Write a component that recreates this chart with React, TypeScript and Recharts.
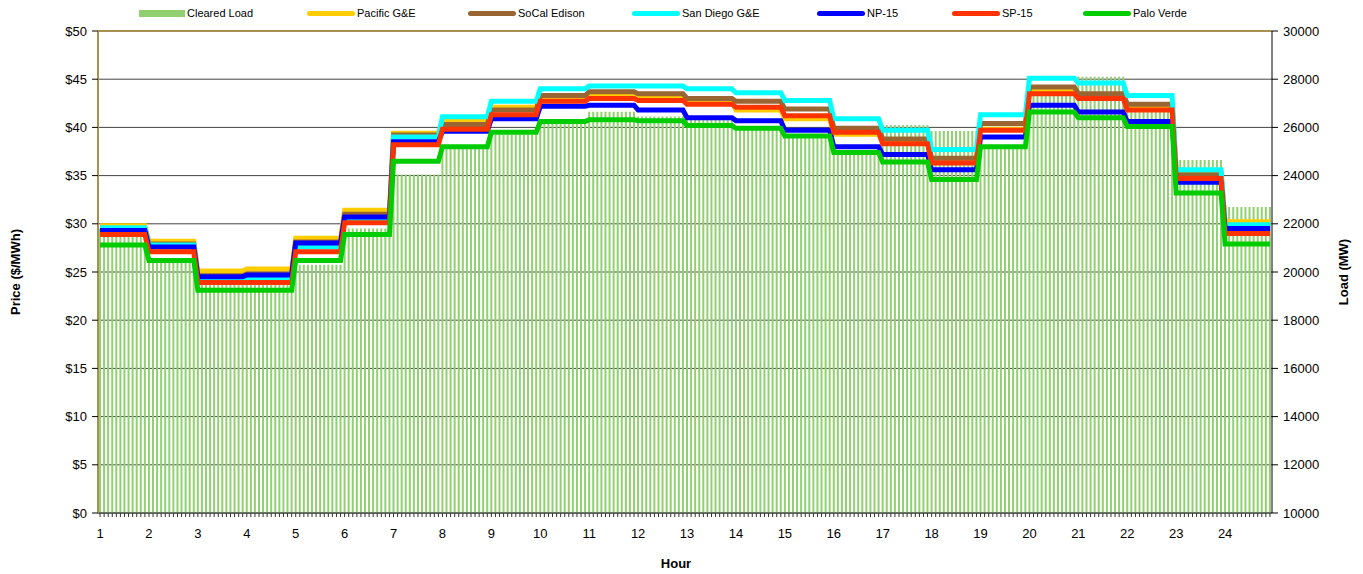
import {
  ComposedChart,
  Bar,
  Line,
  XAxis,
  YAxis,
  CartesianGrid,
  Legend,
  ReferenceLine,
} from "recharts";

const hourLabels = ['1', '2', '3', '4', '5', '6', '7', '8', '9', '10', '11', '12',
  '13', '14', '15', '16', '17', '18', '19', '20', '21', '22', '23', '24'];

// 5-minute slots per hour in the source data
const slotsPerHour = 12;

const clearedLoad = [21800, 20400, 20100, 20000, 20300, 21800, 24050, 25150, 25700, 26150, 26650, 26450,
  26400, 26000, 25600, 24950, 26100, 25850, 25150, 27400, 28100, 26800, 24650, 22700];

const pacificGE = [29.8, 28.2, 25.1, 25.3, 28.5, 31.4, 39.4, 40.6, 42.1, 43.0, 43.4, 43.3,
  42.7, 41.8, 40.9, 39.3, 38.4, 36.4, 39.8, 43.8, 43.3, 42.1, 35.3, 30.2];
const soCalEdison = [29.5, 27.9, 24.6, 24.8, 28.1, 31.0, 39.2, 40.3, 41.8, 43.3, 43.7, 43.5,
  43.0, 42.7, 41.9, 39.9, 38.8, 36.8, 40.4, 44.2, 43.5, 42.4, 35.1, 29.8];
const sanDiegoGE = [29.6, 27.8, 24.3, 24.4, 27.6, 30.5, 39.0, 41.1, 42.7, 44.0, 44.3, 44.3,
  44.0, 43.6, 42.8, 40.9, 39.7, 37.7, 41.3, 45.1, 44.6, 43.3, 35.6, 29.9];
const np15 = [29.3, 27.6, 24.5, 24.7, 28.0, 30.7, 38.5, 39.6, 40.9, 42.2, 42.3, 41.8,
  41.0, 40.7, 39.7, 38.0, 37.2, 35.6, 39.0, 42.3, 41.6, 40.6, 34.3, 29.5];
const sp15 = [28.9, 27.1, 23.9, 23.9, 27.1, 30.1, 38.2, 39.8, 41.3, 42.7, 43.0, 42.8,
  42.4, 42.1, 41.2, 39.5, 38.3, 36.3, 39.7, 43.5, 43.0, 41.8, 34.7, 29.0];
const paloVerde = [27.8, 26.2, 23.1, 23.1, 26.2, 28.9, 36.5, 38.0, 39.5, 40.6, 40.8, 40.7,
  40.2, 39.9, 39.1, 37.4, 36.4, 34.6, 38.0, 41.6, 41.0, 40.1, 33.2, 27.9];

const priceTicks = [0, 5, 10, 15, 20, 25, 30, 35, 40, 45, 50];
const loadTicks = [10000, 12000, 14000, 16000, 18000, 20000, 22000, 24000, 26000, 28000, 30000];

const series = [
  { key: 'pge', name: 'Pacific G&E', color: '#FFCC00', values: pacificGE },
  { key: 'sce', name: 'SoCal Edison', color: '#996633', values: soCalEdison },
  { key: 'sdge', name: 'San Diego G&E', color: '#00FFFF', values: sanDiegoGE },
  { key: 'np15', name: 'NP-15', color: '#0000FF', values: np15 },
  { key: 'sp15', name: 'SP-15', color: '#FF3300', values: sp15 },
  { key: 'pv', name: 'Palo Verde', color: '#00CC00', values: paloVerde },
];

const loadColor = '#90D070';
const borderColor = '#A89050';
const font = 'Liberation Sans, Arial, sans-serif';

// each hour holds one value for all of its 5-minute slots
const data = hourLabels.flatMap((_, h) =>
  Array.from({ length: slotsPerHour }, (_, k) => {
    const row: Record<string, number> = { slot: h * slotsPerHour + k, load: clearedLoad[h] };
    series.forEach(s => { row[s.key] = s.values[h]; });
    return row;
  })
);

const legendItems = [
  { name: 'Cleared Load', color: loadColor, box: true },
  ...series.map(s => ({ name: s.name, color: s.color, box: false })),
];
const legendWidths = [168, 161, 164, 185, 135, 131, 120];

const renderLegend = () => (
  <div style={{ display: 'flex', height: 22, paddingLeft: 139, fontFamily: font, fontSize: 11, alignItems: 'center' }}>
    {legendItems.map((it, i) => (
      <div key={it.name} style={{ display: 'flex', alignItems: 'center', width: legendWidths[i] }}>
        <span style={{
          display: 'inline-block', width: it.box ? 46 : 48, height: it.box ? 7 : 5,
          background: it.color, borderRadius: it.box ? 0 : 3, marginRight: 2,
        }} />
        <span>{it.name}</span>
      </div>
    ))}
  </div>
);

const App = () => {
  return (
    <div style={{ position: 'absolute', left: 0, top: 0 }}>
      <ComposedChart width={1363} height={574} data={data}
        margin={{ top: 9, right: 0, bottom: 0, left: 0 }} barSize={2}>
        <CartesianGrid vertical={false} stroke="#444" yAxisId="left" />
        <XAxis dataKey="slot" interval={0} tickSize={4} tickMargin={12} height={61}
          tickFormatter={(v: number) => (v % slotsPerHour === 0 ? hourLabels[v / slotsPerHour] : '')}
          stroke="#333" tick={{ fill: '#000', fontSize: 13, fontFamily: font }}
          label={{
            content: (p: any) => (
              <text x={p.viewBox.x + p.viewBox.width / 2 - 9} y={p.viewBox.y + 55} textAnchor="middle"
                fontFamily={font} fontSize={13} fontWeight="bold" fill="#000">Hour</text>
            ),
          }} />
        <YAxis yAxisId="left" domain={[0, 50]} ticks={priceTicks} width={98} tickSize={6} tickMargin={5}
          tickFormatter={(v: number) => `$${v}`}
          axisLine={{ stroke: borderColor, strokeWidth: 2 }} tickLine={{ stroke: '#000' }}
          tick={{ fill: '#000', fontSize: 13, fontFamily: font }}
          label={{
            content: (p: any) => {
              const cx = p.viewBox.x + 17;
              const cy = p.viewBox.y + p.viewBox.height / 2;
              return (
                <text x={cx} y={cy} transform={`rotate(-90 ${cx} ${cy})`} textAnchor="middle" dominantBaseline="middle"
                  fontFamily={font} fontSize={13} fontWeight="bold" fill="#000">Price ($/MWh)</text>
              );
            },
          }} />
        <YAxis yAxisId="right" orientation="right" domain={[10000, 30000]} ticks={loadTicks} width={91}
          tickSize={6} tickMargin={5} axisLine={{ stroke: '#000' }} tickLine={{ stroke: '#000' }}
          tick={{ fill: '#000', fontSize: 13, fontFamily: font }}
          label={{
            content: (p: any) => {
              const cx = p.viewBox.x + 73;
              const cy = p.viewBox.y + p.viewBox.height / 2;
              return (
                <text x={cx} y={cy} transform={`rotate(-90 ${cx} ${cy})`} textAnchor="middle" dominantBaseline="middle"
                  fontFamily={font} fontSize={13} fontWeight="bold" fill="#000">Load (MW)</text>
              );
            },
          }} />
        <Legend verticalAlign="top" content={renderLegend} wrapperStyle={{ top: 2, left: 0, width: 1363 }} />
        <Bar yAxisId="right" dataKey="load" name="Cleared Load" fill={loadColor} isAnimationActive={false} />
        {series.map(s => (
          <Line key={s.key} yAxisId="left" type="linear" dataKey={s.key} name={s.name} stroke={s.color}
            strokeWidth={5} dot={false} activeDot={false} isAnimationActive={false} />
        ))}
        <ReferenceLine yAxisId="left" y={50} stroke={borderColor} strokeWidth={2} />
      </ComposedChart>
    </div>
  );
};

export default App;
